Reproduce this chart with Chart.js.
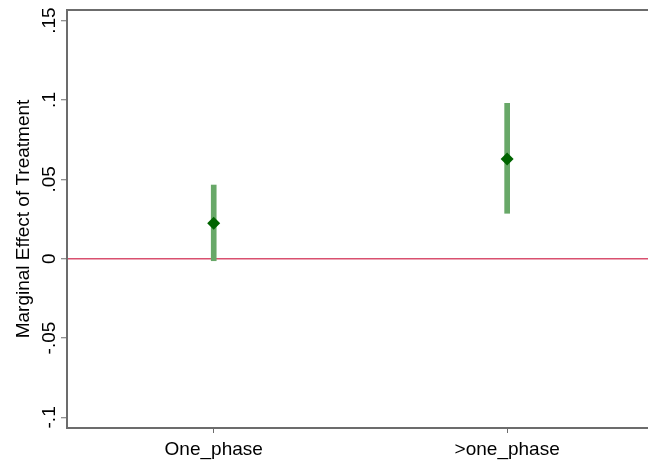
<!DOCTYPE html>
<html>
<head>
<meta charset="utf-8">
<script src="https://cdn.jsdelivr.net/npm/chart.js@4"></script>
<style>
    html, body { margin: 0; padding: 0; background: #fff; }
    canvas { display: block; }
</style>
</head>
<body>
<canvas id="chart" width="648" height="462"></canvas>
<script>
// data
const categories = ['One_phase', '>one_phase'];
const positions = [1, 2];
const estimates = [0.0223, 0.0628];
const ciLower = [-0.0013, 0.0286];
const ciUpper = [0.0464, 0.0979];
const yTicks = [-0.1, -0.05, 0, 0.05, 0.1, 0.15];

const frameColor = '#6c6c6c';
const fontFamily = '"Liberation Sans", Arial, sans-serif';

// stata style labels: .05, -.1, 0
const stataLabel = v => {
    if (v === 0) return '0';
    let s = String(Math.round(v * 100) / 100);
    return s.replace('0.', '.');
};

const barData = positions.map((x, i) => ({ x, y: [ciLower[i], ciUpper[i]] }));
const pointData = positions.map((x, i) => ({ x, y: estimates[i] }));

new Chart(document.getElementById('chart'), {
    type: 'bar',
    data: {
        datasets: [
            {
                type: 'scatter',
                data: pointData,
                pointStyle: 'rectRot',
                pointRadius: 6.5,
                backgroundColor: '#006400',
                borderColor: '#006400',
                borderWidth: 0,
                order: 0
            },
            {
                type: 'bar',
                data: barData,
                backgroundColor: '#68a868',
                barThickness: 5,
                order: 1
            }
        ]
    },
    options: {
        responsive: false,
        animation: false,
        layout: { padding: 0, autoPadding: false },
        plugins: {
            legend: { display: false },
            tooltip: { enabled: false }
        },
        scales: {
            x: {
                type: 'linear',
                position: 'bottom',
                min: 0.5,
                max: 2.48,
                offset: false,
                afterBuildTicks: axis => {
                    axis.ticks = positions.map(v => ({ value: v }));
                },
                afterFit: axis => {
                    axis.height = 34;
                    axis.paddingLeft = 0;
                    axis.paddingRight = 0;
                },
                ticks: {
                    color: '#000',
                    font: { family: fontFamily, size: 19 },
                    padding: 5,
                    maxRotation: 0,
                    callback: v => categories[positions.indexOf(v)] ?? ''
                },
                grid: {
                    drawOnChartArea: false,
                    offset: false,
                    tickLength: 5,
                    tickColor: frameColor,
                    tickWidth: 1
                },
                border: { color: frameColor, width: 2 }
            },
            xTop: {
                type: 'linear',
                position: 'top',
                min: 0.5,
                max: 2.48,
                afterFit: axis => {
                    axis.height = 10;
                    axis.paddingLeft = 0;
                    axis.paddingRight = 0;
                },
                ticks: { display: false },
                grid: { display: false, drawTicks: false },
                border: { color: frameColor, width: 2 }
            },
            y: {
                type: 'linear',
                min: -0.1067,
                max: 0.1567,
                afterBuildTicks: axis => {
                    axis.ticks = yTicks.map(v => ({ value: v }));
                },
                afterFit: axis => {
                    axis.width = 67;
                    axis.paddingTop = 0;
                    axis.paddingBottom = 0;
                },
                ticks: {
                    color: '#000',
                    font: { family: fontFamily, size: 19 },
                    minRotation: 90,
                    maxRotation: 90,
                    crossAlign: 'center',
                    padding: -5,
                    callback: v => stataLabel(v)
                },
                grid: {
                    color: ctx => (ctx.tick && ctx.tick.value === 0) ? '#d9506f' : 'rgba(0,0,0,0)',
                    lineWidth: 1.5,
                    tickLength: 6,
                    tickColor: frameColor,
                    tickWidth: 1
                },
                border: { color: frameColor, width: 2 },
                title: {
                    display: true,
                    text: 'Marginal Effect of Treatment',
                    color: '#000',
                    font: { family: fontFamily, size: 19 },
                    padding: { top: 12, bottom: 0 }
                }
            }
        }
    }
});
</script>
</body>
</html>
